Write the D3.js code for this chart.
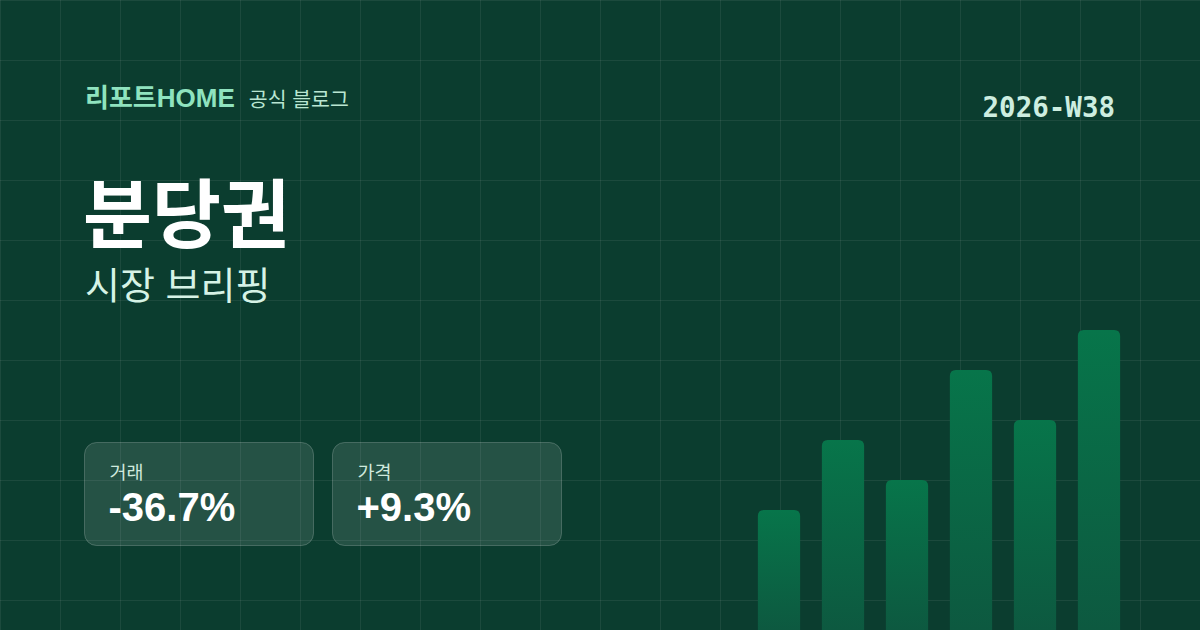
<!DOCTYPE html>
<html>
<head>
<meta charset="utf-8">
<script src="https://cdn.jsdelivr.net/npm/d3@7"></script>
<style>
  html, body { margin: 0; padding: 0; background: #0b3d2f; }
  svg { display: block; }
  .kr { font-family: "Liberation Sans", Arial, "Noto Sans CJK KR", sans-serif; }
</style>
</head>
<body>
<div id="chart"></div>
<script>
// data
const weeks = ['W33', 'W34', 'W35', 'W36', 'W37', 'W38']
const volume = [120, 190, 150, 260, 210, 300]
const cardLabels = ['거래', '가격']
const cardValues = ['-36.7%', '+9.3%']

const w = 1200
const h = 630

const svg = d3.select('#chart')
              .append('svg')
              .attr('width', w)
              .attr('height', h)
              .attr('class', 'kr')

svg.append('rect').attr('width', w).attr('height', h).attr('fill', '#0b3d2f')

// background grid, every 60px
const grid = svg.append('g').attr('stroke', 'rgba(255,255,255,0.07)').attr('stroke-width', 1)
grid.selectAll('.gx').data(d3.range(0, w + 1, 60)).enter().append('line')
    .attr('x1', d => d + 0.5).attr('x2', d => d + 0.5).attr('y1', 0).attr('y2', h)
grid.selectAll('.gy').data(d3.range(0, h + 1, 60)).enter().append('line')
    .attr('y1', d => d + 0.5).attr('y2', d => d + 0.5).attr('x1', 0).attr('x2', w)

const defs = svg.append('defs')
const grad = defs.append('linearGradient').attr('id', 'barGrad')
                 .attr('x1', 0).attr('y1', 0).attr('x2', 0).attr('y2', 1)
grad.append('stop').attr('offset', '0%').attr('stop-color', '#07754a').attr('stop-opacity', 1)
grad.append('stop').attr('offset', '100%').attr('stop-color', '#0d5940').attr('stop-opacity', 1)

// bars
const xScale = d3.scaleBand().domain(weeks).range([747, 1131]).paddingInner(0.34).paddingOuter(0.17)
const yScale = d3.scaleLinear().domain([0, 300]).range([630, 330])

svg.selectAll('.bar')
   .data(volume)
   .enter()
   .append('path')
   .attr('class', 'bar')
   .attr('fill', 'url(#barGrad)')
   .attr('d', (d, i) => {
     const x = xScale(weeks[i]), bw = xScale.bandwidth(), y = yScale(d), r = 6
     return `M${x},${h}V${y + r}Q${x},${y} ${x + r},${y}H${x + bw - r}Q${x + bw},${y} ${x + bw},${y + r}V${h}Z`
   })

// header
const head = svg.append('text').attr('x', 85).attr('y', 107)
head.append('tspan').text('리포트HOME').attr('fill', '#8fe3bf').attr('font-size', 26).attr('font-weight', 700)
head.append('tspan').text('공식 블로그').attr('dx', 14).attr('fill', '#b9e6d2').attr('font-size', 20.5)

svg.append('text').text('2026-W38')
   .attr('x', 1115).attr('y', 117).attr('text-anchor', 'end')
   .attr('font-family', '"DejaVu Sans Mono", monospace').attr('font-weight', 700)
   .attr('font-size', 27.5).attr('fill', '#cdeee0')

svg.append('text').text('분당권')
   .attr('x', 83).attr('y', 242).attr('font-size', 75).attr('font-weight', 700).attr('fill', '#ffffff')

svg.append('text').text('시장 브리핑')
   .attr('x', 85).attr('y', 299).attr('font-size', 38).attr('fill', '#d6f3e6')

// metric cards
const cards = svg.selectAll('.card').data(cardValues).enter().append('g')
                 .attr('transform', (d, i) => `translate(${84.5 + i * 248},${442.5})`)
cards.append('rect').attr('width', 229).attr('height', 103).attr('rx', 12)
     .attr('fill', 'rgba(255,255,255,0.11)').attr('stroke', 'rgba(255,255,255,0.2)')
cards.append('text').text((d, i) => cardLabels[i])
     .attr('x', 25).attr('y', 36).attr('font-size', 18.5).attr('fill', '#cfe9dd')
cards.append('text').text(d => d)
     .attr('x', 24).attr('y', 78).attr('font-size', 40).attr('font-weight', 700).attr('fill', '#ffffff')
</script>
</body>
</html>
